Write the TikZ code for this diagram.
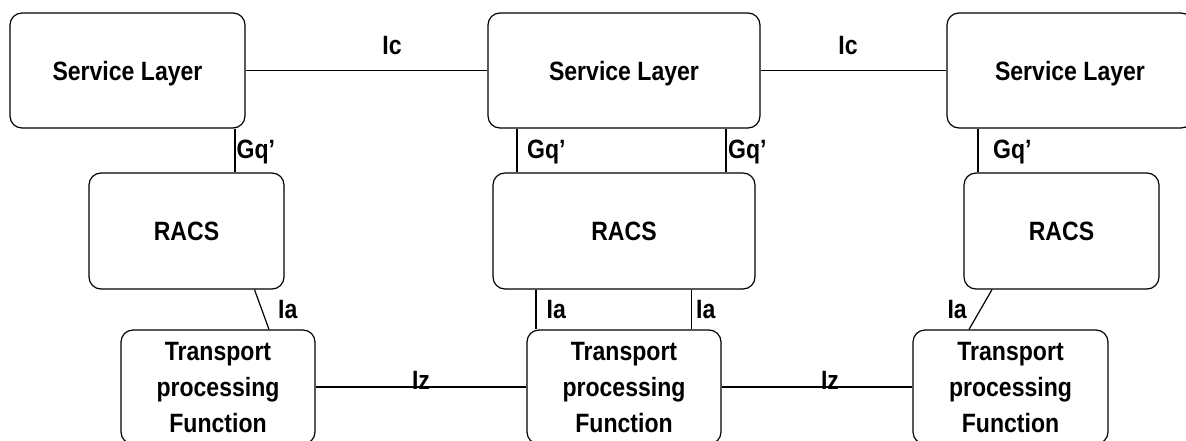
\documentclass[tikz,border=0pt]{standalone}
\usepackage{fontspec}
\setmainfont{Liberation Sans}[FakeStretch=0.87]
\usetikzlibrary{calc}
\tikzset{
	unitbox/.style={draw, line width=1.2pt, rounded corners=12pt, inner sep=0pt, text depth=0pt, align=center, font=\bfseries\fontsize{26.5}{36}\selectfont},
	ifname/.style={inner sep=0pt, font=\bfseries\fontsize{26.5}{29}\selectfont},
	link/.style={line width=1.2pt},
}

\begin{document}
\begin{tikzpicture}[x=1pt, y=-1pt]
		%%%%% START %%%%%
		\useasboundingbox (0,0) rectangle (1186,441);
		\clip (0,0) rectangle (1186,441);
		
		\node[unitbox, minimum width=235, minimum height=115] (sl1) at (127.5,70.5) {Service Layer};
		\node[unitbox, minimum width=272, minimum height=115] (sl2) at (624,70.5) {Service Layer};
		\node[unitbox, minimum width=246, minimum height=115] (sl3) at (1070,70.5) {Service Layer};
		
		\node[unitbox, minimum width=195, minimum height=116] (racs1) at (186.5,231) {RACS};
		\node[unitbox, minimum width=262, minimum height=116] (racs2) at (624,231) {RACS};
		\node[unitbox, minimum width=195, minimum height=116] (racs3) at (1061.5,231) {RACS};
		
		\node[unitbox, minimum width=194, minimum height=114] (tpf1) at (218,387) {Transport\\processing\\Function};
		\node[unitbox, minimum width=194, minimum height=114] (tpf2) at (624,387) {Transport\\processing\\Function};
		\node[unitbox, minimum width=195, minimum height=114] (tpf3) at (1010.5,387) {Transport\\processing\\Function};
		
		% Ic
		\draw[link] (sl1.east) -- (sl2.west);
		\draw[link] (sl2.east) -- (sl3.west);
		\node[ifname, anchor=base] (ic1) at (392,55) {Ic};
		\node[ifname, anchor=base] (ic2) at (848,55) {Ic};
		
		% Gq'
		\draw[link] ($(sl1.south)+(107.5,0)$) -- ($(racs1.north)+(48.5,0)$);
		\draw[link] ($(sl2.south)+(-107,0)$) -- ($(racs2.north)+(-107,0)$);
		\draw[link] ($(sl2.south)+(102,0)$) -- ($(racs2.north)+(102,0)$);
		\draw[link] ($(sl3.south)+(-92,0)$) -- ($(racs3.north)+(-83.5,0)$);
		\node[ifname, anchor=base west] (gq1) at (236.5,158) {Gq’};
		\node[ifname, anchor=base west] (gq2) at (527,158) {Gq’};
		\node[ifname, anchor=base west] (gq3) at (728,158) {Gq’};
		\node[ifname, anchor=base west] (gq4) at (993,158) {Gq’};
		
		% Ia
		\draw[link] ($(racs1.south)+(68,0)$) -- ($(tpf1.north)+(51,0)$);
		\draw[link] ($(racs2.south)+(-88,0)$) -- ($(tpf2.north)+(-88,0)$);
		\draw[link] ($(racs2.south)+(67.6,0)$) -- ($(tpf2.north)+(67.6,0)$);
		\draw[link] ($(racs3.south)+(-69.5,0)$) -- ($(tpf3.north)+(-41.5,0)$);
		\node[ifname, anchor=base west] (ia1) at (278,318) {Ia};
		\node[ifname, anchor=base west] (ia2) at (546.5,318) {Ia};
		\node[ifname, anchor=base west] (ia3) at (696,318) {Ia};
		\node[ifname, anchor=base east] (ia4) at (967,318) {Ia};
		
		% Iz
		\draw[link] (tpf1.east) -- (tpf2.west);
		\draw[link] (tpf2.east) -- (tpf3.west);
		\node[ifname, anchor=base] (iz1) at (421,389) {Iz};
		\node[ifname, anchor=base] (iz2) at (830,389) {Iz};
		
		%%%%% END %%%%%
	\end{tikzpicture}
\end{document}
